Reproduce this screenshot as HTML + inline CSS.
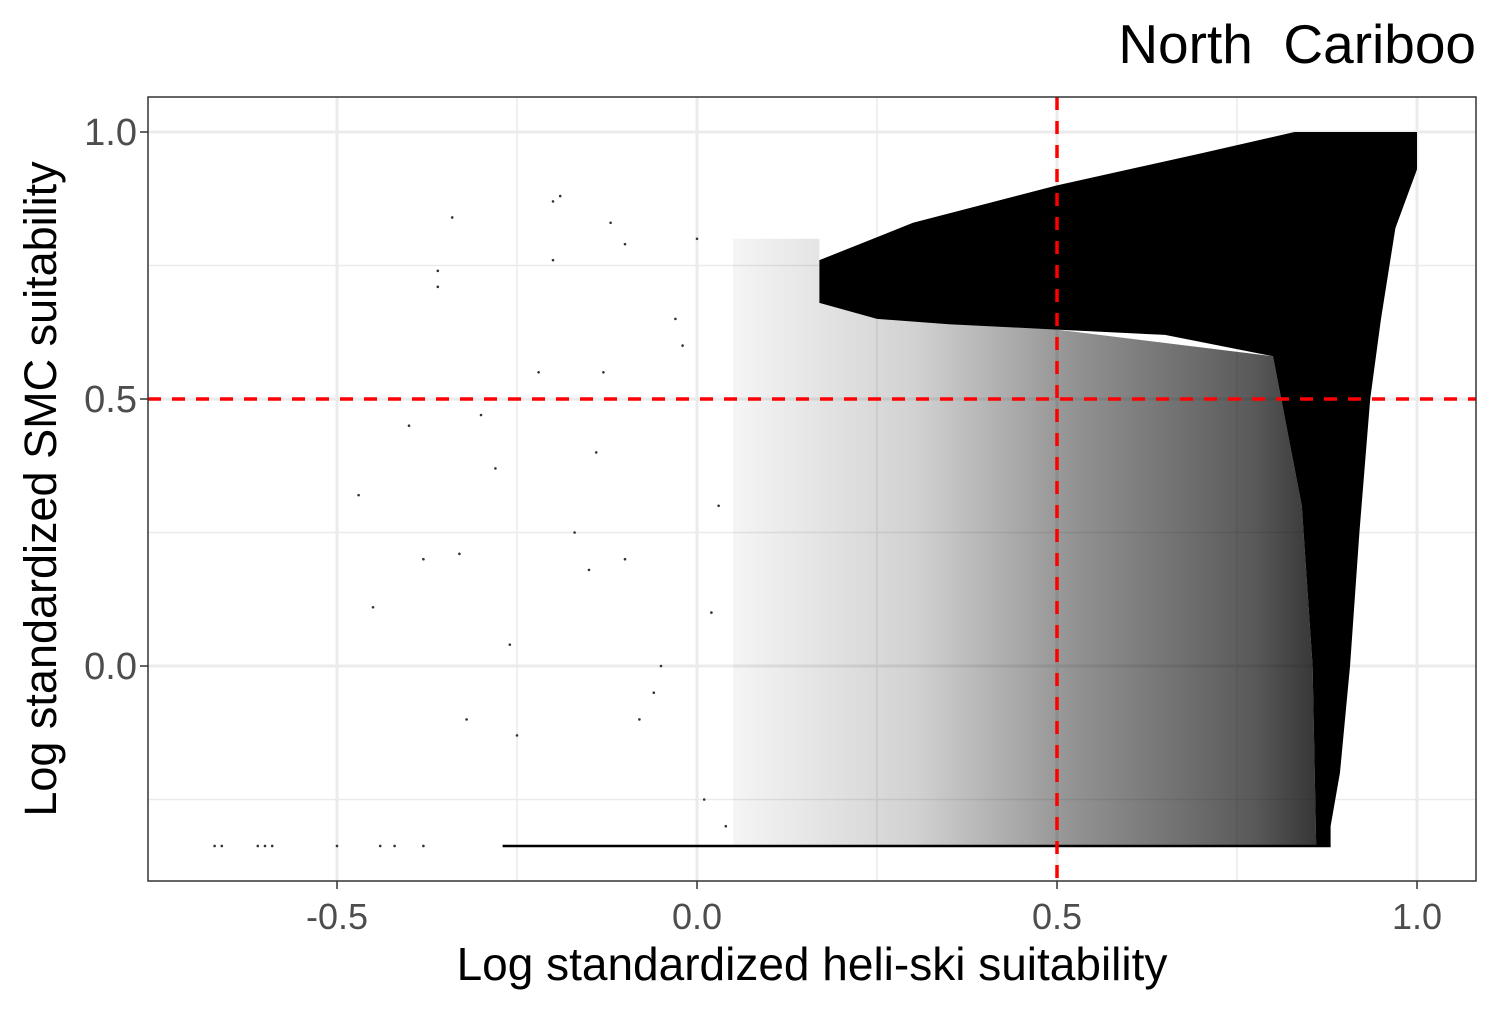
<!DOCTYPE html>
<html><head><meta charset="utf-8"><style>
html,body{margin:0;padding:0;background:#fff}
svg text{font-family:"Liberation Sans",Arial,sans-serif}
</style></head><body>
<svg id="chart" width="1500" height="1011" viewBox="0 0 1500 1011">
<defs>
<linearGradient id="fade" gradientUnits="userSpaceOnUse" x1="733" y1="0" x2="1345" y2="0">
<stop offset="0" stop-color="#000" stop-opacity="0.04"/>
<stop offset="0.3" stop-color="#000" stop-opacity="0.18"/>
<stop offset="0.55" stop-color="#000" stop-opacity="0.42"/>
<stop offset="0.85" stop-color="#000" stop-opacity="0.65"/>
<stop offset="1" stop-color="#000" stop-opacity="0.85"/>
</linearGradient>
</defs>
<text x="1476" y="63" text-anchor="end" font-size="55" fill="#000" xml:space="preserve" style="white-space:pre">North  Cariboo</text>
<g id="grid"></g>
<g id="marks"></g>
<g id="refs"></g>
<rect x="148" y="97" width="1328" height="784" fill="none" stroke="#333" stroke-width="1.5"/>
<g id="axes"></g>
<text x="812" y="980" text-anchor="middle" font-size="46" fill="#000">Log standardized heli-ski suitability</text>
<text transform="translate(56,489) rotate(-90)" text-anchor="middle" font-size="45" fill="#000">Log standardized SMC suitability</text>
</svg>
<script>
const xTicks=[-0.5,0.0,0.5,1.0];
const xTickLabels=["-0.5","0.0","0.5","1.0"];
const yTicks=[0.0,0.5,1.0];
const yTickLabels=["0.0","0.5","1.0"];
const xMinor=[-0.25,0.25,0.75];
const yMinor=[-0.25,0.25,0.75];
const refX=[0.5];
const refY=[0.5];
// dense region outlines (data coords)
const coreX=[0.17,0.3,0.5,0.7,0.83,1.0,1.0,0.97,0.95,0.935,0.92,0.907,0.893,0.88,0.88,0.86,0.855,0.84,0.8,0.65,0.5,0.35,0.25,0.17];
const coreY=[0.76,0.83,0.9,0.96,1.0,1.0,0.93,0.82,0.65,0.5,0.25,0.0,-0.2,-0.3,-0.337,-0.337,0.0,0.3,0.58,0.62,0.63,0.64,0.65,0.68];
const cloudX=[0.05,0.17,0.17,0.3,0.5,0.8,0.84,0.855,0.86,0.05];
const cloudY=[0.8,0.8,0.68,0.65,0.63,0.58,0.3,0.0,-0.337,-0.337];
const floorX=[-0.27,0.88];
const floorY=[-0.337,-0.337];
const ptX=[-0.67,-0.66,-0.61,-0.6,-0.59,-0.5,-0.44,-0.42,-0.38,-0.34,-0.36,-0.36,-0.2,-0.19,-0.12,-0.1,-0.45,-0.47,-0.33,-0.32,-0.25,-0.38,-0.3,-0.2,-0.14,-0.1,-0.05,-0.02,0.0,-0.17,-0.13,-0.22,-0.08,-0.28,-0.26,-0.4,-0.15,-0.06,0.03,0.01,-0.03,0.02,0.04];
const ptY=[-0.337,-0.337,-0.337,-0.337,-0.337,-0.337,-0.337,-0.337,-0.337,0.84,0.74,0.71,0.87,0.88,0.83,0.79,0.11,0.32,0.21,-0.1,-0.13,0.2,0.47,0.76,0.4,0.2,0.0,0.6,0.8,0.25,0.55,0.55,-0.1,0.37,0.04,0.45,0.18,-0.05,0.3,-0.25,0.65,0.1,-0.3];
const X0=148,X1=1476,Y0=97,Y1=881;
const sx=v=>697+v*720;
const sy=v=>666-v*534;
const NS="http://www.w3.org/2000/svg";
function mk(tag,attrs,parent){const e=document.createElementNS(NS,tag);for(const k in attrs)e.setAttribute(k,attrs[k]);document.getElementById(parent).appendChild(e);return e;}
xMinor.forEach(v=>{const e=mk('line',{x1:sx(v),x2:sx(v),y1:Y0,y2:Y1,stroke:'#ebebeb','stroke-width':1.5},'grid');

});
yMinor.forEach(v=>{const e=mk('line',{x1:X0,x2:X1,y1:sy(v),y2:sy(v),stroke:'#ebebeb','stroke-width':1.5},'grid');

});
xTicks.forEach(v=>{const e=mk('line',{x1:sx(v),x2:sx(v),y1:Y0,y2:Y1,stroke:'#ebebeb','stroke-width':3},'grid');

});
yTicks.forEach(v=>{const e=mk('line',{x1:X0,x2:X1,y1:sy(v),y2:sy(v),stroke:'#ebebeb','stroke-width':3},'grid');

});
function poly(xs,ys,fill,name){const pts=xs.map((x,i)=>sx(x)+','+sy(ys[i])).join(' ');
const e=mk('polygon',{points:pts,fill:fill},'marks');

}
poly(cloudX,cloudY,'url(#fade)','scattered-point-cloud');
poly(coreX,coreY,'#000','saturated-point-cloud');
{const e=mk('line',{x1:sx(floorX[0]),x2:sx(floorX[1]),y1:sy(floorY[0]),y2:sy(floorY[1]),stroke:'#000','stroke-width':2.5},'marks');

}
ptX.forEach((x,i)=>{const e=mk('circle',{cx:sx(x),cy:sy(ptY[i]),r:1.3,fill:'#333'},'marks');

});
refX.forEach(v=>{const e=mk('line',{x1:sx(v),x2:sx(v),y1:Y0,y2:Y1,stroke:'#ff0000','stroke-width':3.5,'stroke-dasharray':'13 11'},'refs');

});
refY.forEach(v=>{const e=mk('line',{x1:X0,x2:X1,y1:sy(v),y2:sy(v),stroke:'#ff0000','stroke-width':3.5,'stroke-dasharray':'13 11'},'refs');

});
xTicks.forEach((v,i)=>{const t=mk('line',{x1:sx(v),x2:sx(v),y1:Y1,y2:Y1+8,stroke:'#333','stroke-width':1.5},'axes');


const l=mk('text',{x:sx(v),y:929,'text-anchor':'middle','font-size':36,fill:'#4d4d4d'},'axes');l.textContent=xTickLabels[i];

});
yTicks.forEach((v,i)=>{const t=mk('line',{x1:X0-8,x2:X0,y1:sy(v),y2:sy(v),stroke:'#333','stroke-width':1.5},'axes');


const l=mk('text',{x:137,y:sy(v)+13,'text-anchor':'end','font-size':38,fill:'#4d4d4d'},'axes');l.textContent=yTickLabels[i];

});
</script>
</body></html>
